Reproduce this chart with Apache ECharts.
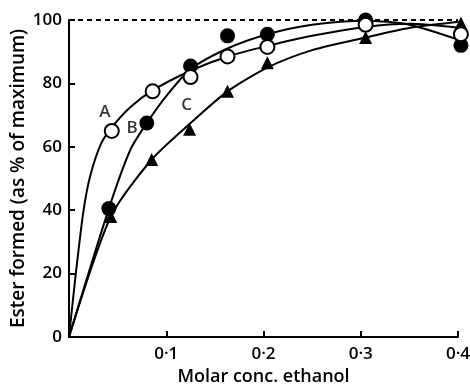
<!DOCTYPE html>
<html>
<head>
<meta charset="utf-8">
<script src="https://cdn.jsdelivr.net/npm/echarts@6/dist/echarts.min.js"></script>
<style>
	html, body { margin: 0; padding: 0; background: #fff; }
	#chart { width: 470px; height: 389px; }
</style>
</head>
<body>
<div id="chart"></div>
<script>
	// measured points (x = molar conc. ethanol, y = % of maximum)
	const pointsA = [[0.044, 65], [0.086, 77.5], [0.125, 82], [0.163, 88.5], [0.204, 91.5], [0.305, 98.5], [0.403, 95.5]];
	const pointsB = [[0.041, 40.5], [0.080, 67.5], [0.125, 85.5], [0.163, 95], [0.204, 95.5], [0.305, 100], [0.403, 92]];
	const pointsC = [[0.043, 38], [0.085, 56], [0.124, 65.5], [0.163, 77.5], [0.204, 86.5], [0.305, 94.5], [0.403, 99]];

	// fitted curves
	const curveA = [[0, 0], [0.007, 20], [0.015, 40], [0.022, 51], [0.033, 61], [0.045, 66.5], [0.063, 72.5], [0.086, 77.8], [0.125, 84], [0.163, 88.5], [0.204, 91.8], [0.25, 95], [0.305, 97.8], [0.35, 98.8], [0.403, 97.5]];
	const curveB = [[0, 0], [0.041, 40.5], [0.063, 59], [0.080, 67.5], [0.1, 76], [0.125, 84.5], [0.163, 91], [0.204, 95.5], [0.25, 98.5], [0.305, 99.8], [0.35, 98.5], [0.403, 93.5]];
	const curveC = [[0, 0], [0.043, 38], [0.085, 56], [0.125, 67.5], [0.163, 77.5], [0.204, 85], [0.25, 90.5], [0.305, 94.5], [0.35, 97.5], [0.403, 99.5]];

	const curveLabels = [[0.037, 71, 'A'], [0.065, 66, 'B'], [0.121, 73, 'C']];
	const xTickLabels = { 0.1: '0·1', 0.2: '0·2', 0.3: '0·3', 0.4: '0·4' };

	const font = 'Open Sans';
	const ink = '#000';

	const chart = echarts.init(document.getElementById('chart'), null, { renderer: 'canvas' });

	function curveSeries(data) {
		return {
			type: 'line',
			data: data,
			smooth: 0.25,
			symbol: 'none',
			clip: false,
			lineStyle: { color: ink, width: 2 },
			z: 2,
			silent: true
		};
	}

	const option = {
		animation: false,
		backgroundColor: '#fff',
		grid: { left: 69, right: 12, top: 20, bottom: 52, outerBoundsMode: 'none', containLabel: false },
		xAxis: {
			type: 'value',
			min: 0,
			max: 0.4,
			interval: 0.1,
			name: 'Molar conc. ethanol',
			nameLocation: 'middle',
			nameGap: 31,
			nameTextStyle: { fontFamily: font, fontSize: 18, fontWeight: 600, color: ink },
			axisLine: { lineStyle: { color: ink, width: 2 } },
			axisTick: { inside: true, length: 6, lineStyle: { color: ink, width: 2 } },
			axisLabel: {
				fontFamily: font, fontSize: 17, fontWeight: 600, color: ink, margin: 9,
				formatter: v => xTickLabels[Math.round(v * 10) / 10] || ''
			},
			splitLine: { show: false }
		},
		yAxis: {
			type: 'value',
			min: 0,
			max: 100,
			interval: 20,
			name: 'Ester formed (as % of maximum)',
			nameLocation: 'middle',
			nameGap: 41,
			nameMoveOverlap: false,
			nameTextStyle: { fontFamily: font, fontSize: 19, fontWeight: 600, color: ink },
			axisLine: { show: true, lineStyle: { color: ink, width: 2 } },
			axisTick: { show: true, inside: true, length: 6, lineStyle: { color: ink, width: 2 } },
			axisLabel: { fontFamily: font, fontSize: 17, fontWeight: 600, color: ink, margin: 7 },
			splitLine: { show: false }
		},
		series: [
			Object.assign(curveSeries(curveA), {
				markLine: {
					silent: true,
					symbol: 'none',
					label: { show: false },
					lineStyle: { color: ink, type: [5, 4], width: 2 },
					data: [{ yAxis: 100 }]
				}
			}),
			curveSeries(curveB),
			curveSeries(curveC),
			{
				type: 'scatter',
				data: pointsC,
				symbol: 'triangle',
				symbolSize: 13,
				clip: false,
				itemStyle: { color: ink, opacity: 1 },
				z: 3
			},
			{
				type: 'scatter',
				data: pointsB,
				symbol: 'circle',
				symbolSize: 15,
				clip: false,
				itemStyle: { color: ink, opacity: 1 },
				z: 4
			},
			{
				type: 'scatter',
				data: pointsA,
				symbol: 'circle',
				symbolSize: 14,
				clip: false,
				itemStyle: { color: '#fff', borderColor: ink, borderWidth: 2, opacity: 1 },
				z: 5
			},
			{
				type: 'scatter',
				data: curveLabels.map(d => ({ value: [d[0], d[1]], name: d[2] })),
				symbolSize: 0,
				label: {
					show: true,
					position: 'inside',
					formatter: p => p.name,
					fontFamily: font,
					fontSize: 17,
					fontWeight: 600,
					color: ink
				},
				z: 6
			}
		]
	};

	chart.setOption(option);
</script>
</body>
</html>
